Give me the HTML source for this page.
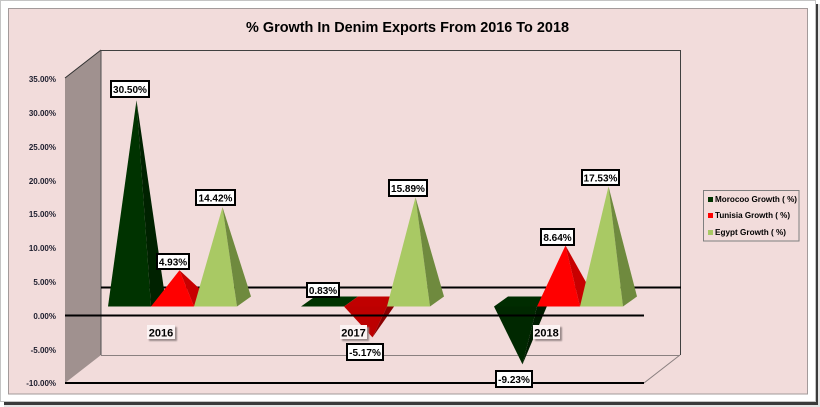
<!DOCTYPE html>
<html>
<head>
<meta charset="utf-8">
<style>
html,body{margin:0;padding:0;background:#ffffff;}
svg{display:block;}
text{font-family:"Liberation Sans",Arial,sans-serif;font-weight:bold;}
</style>
</head>
<body>
<svg width="820" height="407" viewBox="0 0 820 407" xmlns="http://www.w3.org/2000/svg">
  <defs>
    <filter id="sh" x="-20%" y="-20%" width="150%" height="160%">
      <feGaussianBlur stdDeviation="0.8"/>
    </filter>
  </defs>
  <!-- outer frame + drop shadow -->
  <rect x="816" y="4" width="4" height="403" fill="#e4e4e4"/>
  <rect x="4" y="402" width="816" height="5" fill="#e4e4e4"/>
  <rect x="4" y="4" width="814" height="401" fill="#3a3a3a"/>
  <rect x="0.5" y="0.5" width="815" height="401" fill="#ffffff" stroke="#c4c4c4" stroke-width="1"/>
  <!-- chart area -->
  <rect x="8.5" y="8.5" width="799" height="385.5" fill="#f2dcdb" stroke="#a39a9a" stroke-width="1"/>

  <!-- title -->
  <text x="407.5" y="32" font-size="15" text-anchor="middle" textLength="323" lengthAdjust="spacingAndGlyphs" fill="#000">% Growth In Denim Exports From 2016 To 2018</text>

  <!-- side wall -->
  <polygon points="65,78 101,50 101,355 65,383" fill="#a0918f"/>
  <line x1="65" y1="78" x2="101" y2="50" stroke="#303030" stroke-width="1"/>
  <line x1="101" y1="50" x2="101" y2="355" stroke="#505050" stroke-width="1"/>
  <!-- back wall edges -->
  <line x1="101" y1="50.5" x2="680.5" y2="50.5" stroke="#404040" stroke-width="1"/>
  <line x1="680.5" y1="50" x2="680.5" y2="355" stroke="#404040" stroke-width="1"/>
  <!-- floor edges -->
  <line x1="101" y1="355.5" x2="680" y2="355.5" stroke="#8a8080" stroke-width="1"/>
  <line x1="644" y1="383" x2="680" y2="355" stroke="#8a8080" stroke-width="1"/>

  <!-- 5% gridline (back) -->
  <line x1="101" y1="287.5" x2="681" y2="287.5" stroke="#000" stroke-width="2"/>

  <!-- y-axis labels -->
  <g font-size="8" fill="#202030" text-anchor="end">
    <text x="56" y="82">35.00%</text>
    <text x="56" y="116">30.00%</text>
    <text x="56" y="150">25.00%</text>
    <text x="56" y="184">20.00%</text>
    <text x="56" y="217">15.00%</text>
    <text x="56" y="251">10.00%</text>
    <text x="56" y="285">5.00%</text>
    <text x="56" y="319">0.00%</text>
    <text x="56" y="353">-5.00%</text>
    <text x="56" y="386">-10.00%</text>
  </g>

  <!-- 2016 -->
  <polygon points="108,306.5 151,306.5 136.5,100.2" fill="#003300"/>
  <polygon points="151,306.5 165,296.5 136.5,100.2" fill="#002200"/>
  <polygon points="151,306.5 194,306.5 179.5,270.2" fill="#ff0000"/>
  <polygon points="194,306.5 208,296.5 179.5,270.2" fill="#c80000"/>
  <polygon points="194,306.5 237,306.5 222.5,207.1" fill="#a9c964"/>
  <polygon points="237,306.5 251,296.5 222.5,207.1" fill="#6f8a3e"/>

  <!-- 2017 -->
  <polygon points="301,306.5 344,306.5 358,296.5 315,296.5" fill="#003300"/>
  <polygon points="344,306.5 387,306.5 401,296.5 358,296.5" fill="#c00000"/>
  <polygon points="344,306.5 387,306.5 372.5,337.4" fill="#bc0000"/>
  <polygon points="387,306.5 401,296.5 372.5,337.4" fill="#8a0000"/>
  <polygon points="387,306.5 430,306.5 415.5,197.3" fill="#a9c964"/>
  <polygon points="430,306.5 444,296.5 415.5,197.3" fill="#6f8a3e"/>

  <!-- 2018 -->
  <polygon points="494,306.5 537,306.5 551,296.5 508,296.5" fill="#002c00"/>
  <polygon points="494,306.5 537,306.5 522.5,364.4" fill="#002800"/>
  <polygon points="537,306.5 551,296.5 522.5,364.4" fill="#001c00"/>
  <polygon points="537,306.5 580,306.5 565.5,245.5" fill="#ff0000"/>
  <polygon points="580,306.5 594,296.5 565.5,245.5" fill="#c80000"/>
  <polygon points="580,306.5 623,306.5 608.5,186.4" fill="#a9c964"/>
  <polygon points="623,306.5 637,296.5 608.5,186.4" fill="#6f8a3e"/>

  <!-- 0% line and -10% line (front) -->
  <line x1="65" y1="315.5" x2="644" y2="315.5" stroke="#000" stroke-width="2"/>
  <line x1="65" y1="383" x2="644" y2="383" stroke="#000" stroke-width="2"/>

  <!-- category labels -->
  <g>
    <rect x="149" y="327" width="28" height="14" fill="#9a8a8a" filter="url(#sh)"/>
    <rect x="147" y="325" width="28" height="14" fill="#fbf3f3"/>
    <text x="161" y="336.5" font-size="11" text-anchor="middle" fill="#000">2016</text>
    <rect x="342" y="327" width="27" height="14" fill="#9a8a8a" filter="url(#sh)"/>
    <rect x="340" y="325" width="27" height="14" fill="#fbf3f3"/>
    <text x="353.5" y="336.5" font-size="11" text-anchor="middle" fill="#000">2017</text>
    <rect x="535" y="327" width="27" height="14" fill="#9a8a8a" filter="url(#sh)"/>
    <rect x="533" y="325" width="27" height="14" fill="#fbf3f3"/>
    <text x="546.5" y="336.5" font-size="11" text-anchor="middle" fill="#000">2018</text>
  </g>

  <!-- data labels -->
  <g font-size="10" fill="#000" text-anchor="middle">
    <rect x="111" y="81" width="38" height="16" fill="#fff" stroke="#000" stroke-width="2"/>
    <text x="130" y="93">30.50%</text>
    <rect x="196" y="190" width="39" height="15" fill="#fff" stroke="#000" stroke-width="2"/>
    <text x="215.5" y="201.5">14.42%</text>
    <rect x="157" y="254" width="32" height="15" fill="#fff" stroke="#000" stroke-width="2"/>
    <text x="173" y="265.5">4.93%</text>
    <rect x="307" y="283" width="32" height="14" fill="#fff" stroke="#000" stroke-width="2"/>
    <text x="323" y="294">0.83%</text>
    <rect x="389" y="180" width="38" height="16" fill="#fff" stroke="#000" stroke-width="2"/>
    <text x="408" y="192">15.89%</text>
    <rect x="347" y="344" width="36" height="16" fill="#fff" stroke="#000" stroke-width="2"/>
    <text x="365" y="356">-5.17%</text>
    <rect x="541" y="229" width="33" height="16" fill="#fff" stroke="#000" stroke-width="2"/>
    <text x="557.5" y="241">8.64%</text>
    <rect x="582" y="170" width="37" height="15" fill="#fff" stroke="#000" stroke-width="2"/>
    <text x="600.5" y="181.5">17.53%</text>
    <rect x="496" y="371" width="36" height="16" fill="#fff" stroke="#000" stroke-width="2"/>
    <text x="514" y="383">-9.23%</text>
  </g>

  <!-- legend -->
  <rect x="703.5" y="190.5" width="95.5" height="50.5" fill="#f2dcdb" stroke="#7f7f7f" stroke-width="1"/>
  <rect x="708" y="197" width="5" height="5" fill="#003300"/>
  <text x="715" y="202" font-size="8" fill="#000" textLength="82" lengthAdjust="spacingAndGlyphs">Morocoo Growth ( %)</text>
  <rect x="708" y="213" width="5" height="5" fill="#ff0000"/>
  <text x="715" y="218" font-size="8" fill="#000" textLength="75" lengthAdjust="spacingAndGlyphs">Tunisia Growth ( %)</text>
  <rect x="708" y="230" width="5" height="5" fill="#a9c964"/>
  <text x="715" y="235" font-size="8" fill="#000" textLength="71" lengthAdjust="spacingAndGlyphs">Egypt Growth ( %)</text>
</svg>
</body>
</html>
